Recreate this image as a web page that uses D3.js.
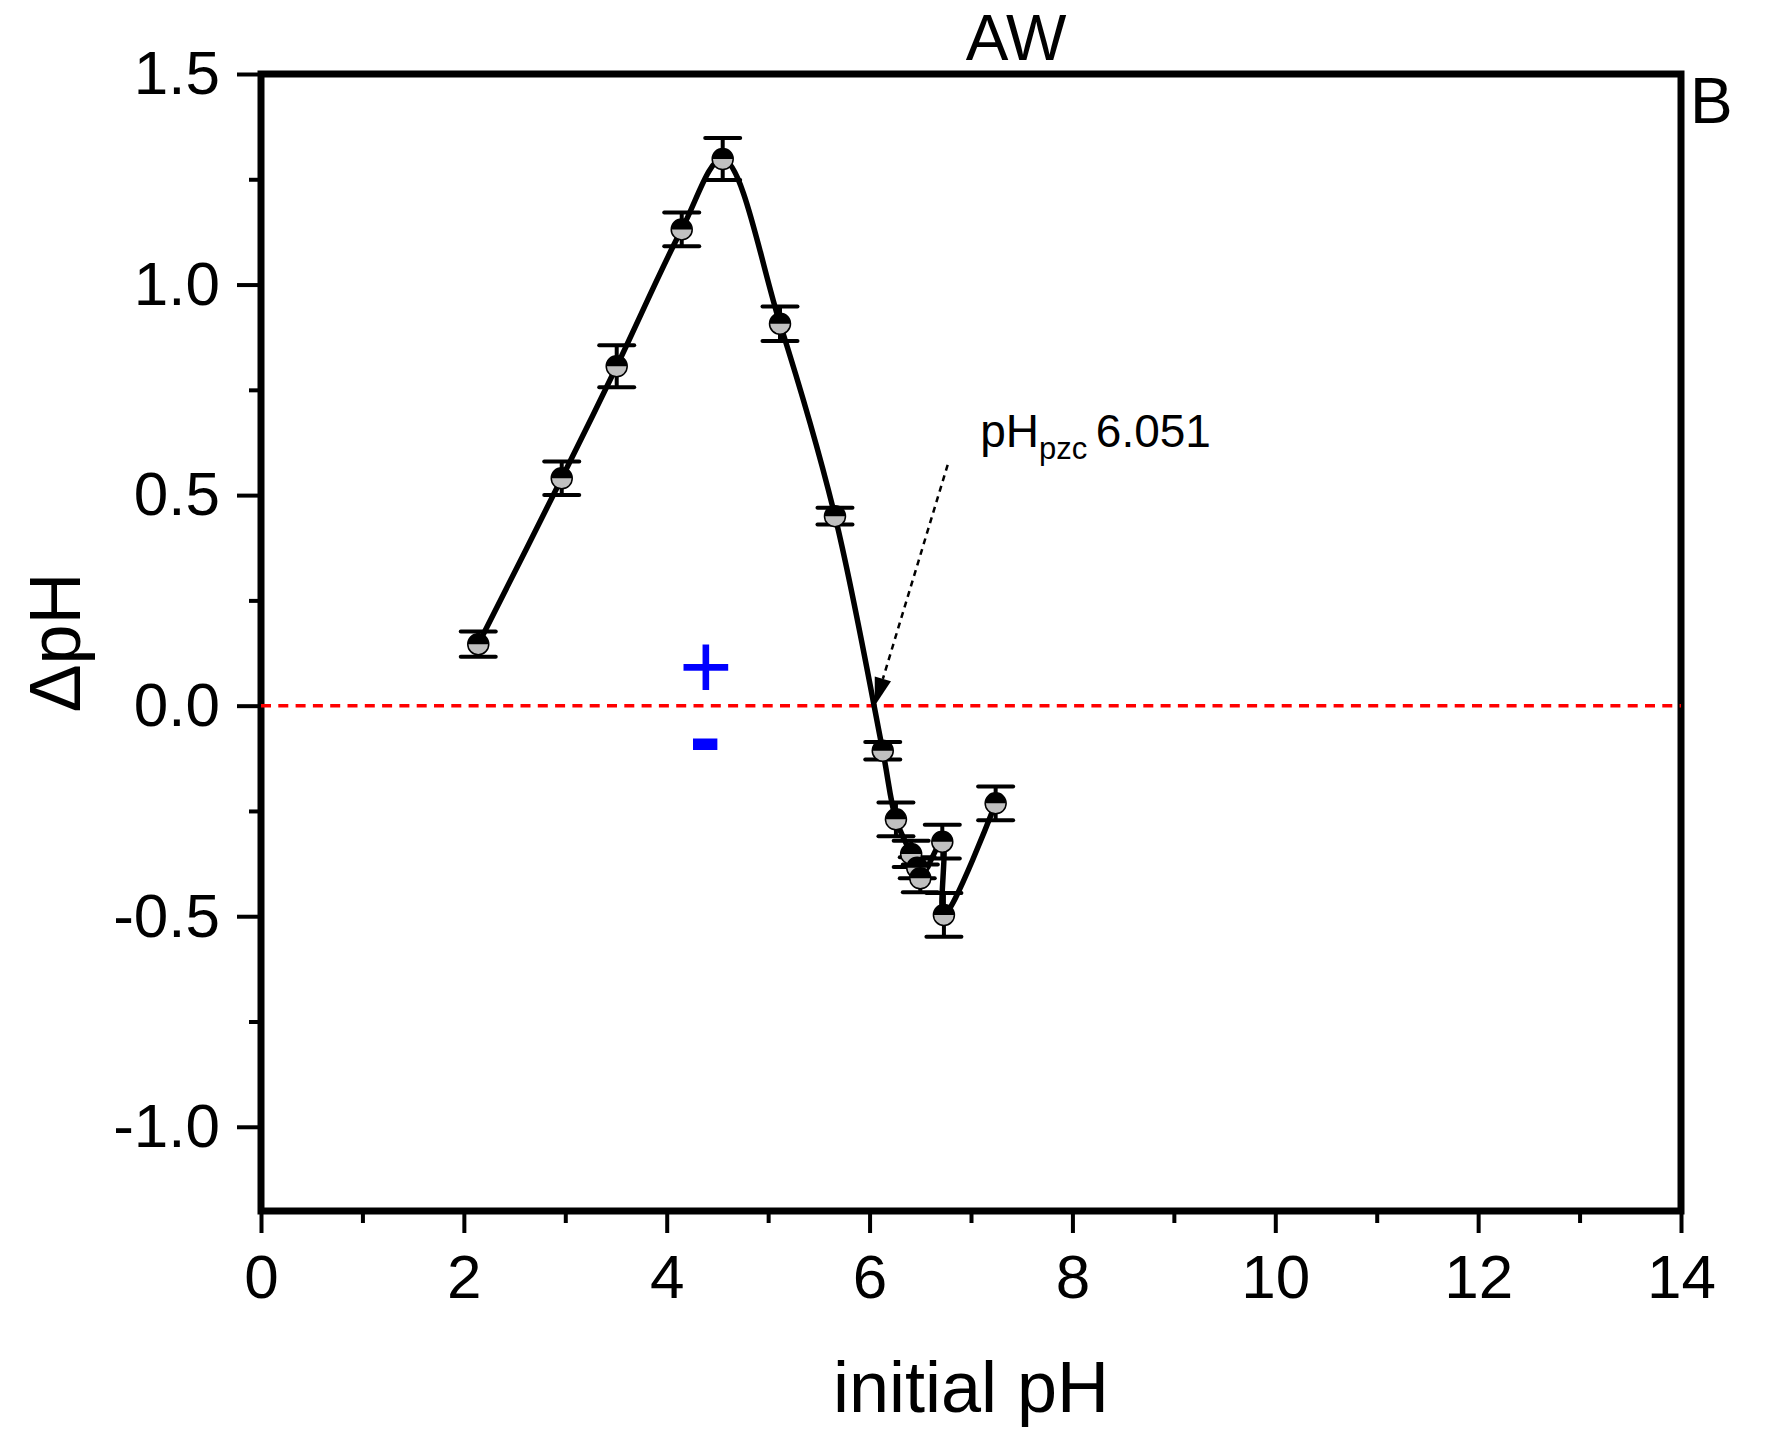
<!DOCTYPE html>
<html>
<head>
<meta charset="utf-8">
<script src="https://cdn.jsdelivr.net/npm/d3@7"></script>
<style>
  body { margin: 0; background: #fff; }
  svg { display: block; font-family: "Liberation Sans", Arial, sans-serif; }
</style>
</head>
<body>
<div id="chart"></div>
<script>
// initial pH vs delta pH (AW sample)
const phInitial = [2.142, 2.965, 3.507, 4.148, 4.552, 5.117, 5.659, 6.13, 6.26, 6.41, 6.47, 6.50, 6.717, 6.733, 7.243];
const deltaPH = [0.146, 0.540, 0.806, 1.131, 1.298, 0.907, 0.450, -0.107, -0.270, -0.352, -0.385, -0.410, -0.323, -0.497, -0.232];
const deltaErr = [0.03, 0.04, 0.05, 0.04, 0.05, 0.041, 0.02, 0.021, 0.04, 0.031, 0.025, 0.033, 0.04, 0.052, 0.04];

const xMajor = [0, 2, 4, 6, 8, 10, 12, 14];
const xMinor = [1, 3, 5, 7, 9, 11, 13];
const yMajor = [-1.0, -0.5, 0.0, 0.5, 1.0, 1.5];
const yMinor = [-0.75, -0.25, 0.25, 0.75, 1.25];

const pzc = 6.051;

const width = 1769, height = 1429;
const svg = d3.select('#chart').append('svg')
    .attr('width', width)
    .attr('height', height);

const x = d3.scaleLinear().domain([0, 14]).range([261, 1681]);
const y = d3.scaleLinear().domain([-1.2, 1.5]).range([1211, 74]);

// axes
svg.append('g')
    .attr('transform', `translate(0,${y(-1.2)})`)
    .call(d3.axisBottom(x).tickValues(xMajor).tickSize(22).tickSizeOuter(0).tickPadding(21).tickFormat(d3.format('d')));
svg.append('g')
    .attr('transform', `translate(0,${y(-1.2)})`)
    .call(d3.axisBottom(x).tickValues(xMinor).tickSize(12).tickSizeOuter(0).tickFormat(''));

const yAxis = svg.append('g')
    .attr('transform', `translate(${x(0)},0)`)
    .call(d3.axisLeft(y).tickValues(yMajor).tickSize(24).tickSizeOuter(0).tickPadding(17).tickFormat(d3.format('.1f')));
svg.append('g')
    .attr('transform', `translate(${x(0)},0)`)
    .call(d3.axisLeft(y).tickValues(yMinor).tickSize(12).tickSizeOuter(0).tickFormat(''));

svg.selectAll('.domain').remove();
svg.selectAll('.tick line').attr('stroke', '#000').attr('stroke-width', 4);
svg.selectAll('.tick text')
    .attr('fill', '#000')
    .style('font-size', '62px')
    .style('font-family', '"Liberation Sans", Arial, sans-serif');
yAxis.selectAll('.tick text').text(d => d3.format('.1f')(d).replace('−', '-'));

// frame
svg.append('rect')
    .attr('x', x(0))
    .attr('y', y(1.5))
    .attr('width', x(14) - x(0))
    .attr('height', y(-1.2) - y(1.5))
    .attr('fill', 'none')
    .attr('stroke', '#000')
    .attr('stroke-width', 7);

// zero line
svg.append('line')
    .attr('x1', x(0)).attr('x2', x(14))
    .attr('y1', y(0)).attr('y2', y(0))
    .attr('stroke', '#ff0000')
    .attr('stroke-width', 3.5)
    .attr('stroke-dasharray', '10,7.3');

const points = phInitial.map((v, i) => ({ x: v, y: deltaPH[i], e: deltaErr[i] }));

// connecting spline
svg.append('path')
    .datum(points)
    .attr('fill', 'none')
    .attr('stroke', '#000')
    .attr('stroke-width', 5.5)
    .attr('stroke-linejoin', 'round')
    .attr('d', d3.line()
        .x(d => x(d.x))
        .y(d => y(d.y))
        .curve(d3.curveCatmullRom.alpha(0.5)));

// error bars
const capW = 17.5;
const err = svg.append('g').attr('stroke', '#000').attr('stroke-width', 4);
points.forEach(d => {
    err.append('line')
        .attr('x1', x(d.x)).attr('x2', x(d.x))
        .attr('y1', y(d.y + d.e)).attr('y2', y(d.y - d.e));
    err.append('line')
        .attr('x1', x(d.x) - capW).attr('x2', x(d.x) + capW)
        .attr('y1', y(d.y + d.e)).attr('y2', y(d.y + d.e))
        .attr('stroke-linecap', 'round');
    err.append('line')
        .attr('x1', x(d.x) - capW).attr('x2', x(d.x) + capW)
        .attr('y1', y(d.y - d.e)).attr('y2', y(d.y - d.e))
        .attr('stroke-linecap', 'round');
});

// half-filled markers
const r = 10.5;
const markers = svg.append('g');
points.forEach(d => {
    const cx = x(d.x), cy = y(d.y);
    const g = markers.append('g').attr('transform', `translate(${cx},${cy})`);
    g.append('circle').attr('r', r).attr('fill', '#c0c0c0');
    g.append('path')
        .attr('d', `M${-r},0 A${r},${r} 0 0 1 ${r},0 Z`)
        .attr('fill', '#000');
    g.append('circle').attr('r', r).attr('fill', 'none').attr('stroke', '#000').attr('stroke-width', 1.5);
});

// pH pzc annotation
const arrowFrom = { x: 6.77, y: 0.572 };
const x1 = x(arrowFrom.x), y1 = y(arrowFrom.y);
const x2 = x(pzc), y2 = y(0);
const ang = Math.atan2(y2 - y1, x2 - x1);
const headLen = 28, headW = 8.5;
const bx = x2 - headLen * Math.cos(ang), by = y2 - headLen * Math.sin(ang);
svg.append('line')
    .attr('x1', x1).attr('y1', y1)
    .attr('x2', bx).attr('y2', by)
    .attr('stroke', '#000')
    .attr('stroke-width', 2.5)
    .attr('stroke-dasharray', '6,5');
svg.append('path')
    .attr('d', `M${x2},${y2} L${bx + headW * Math.sin(ang)},${by - headW * Math.cos(ang)} L${bx - headW * Math.sin(ang)},${by + headW * Math.cos(ang)} Z`)
    .attr('fill', '#000');

const label = svg.append('text')
    .attr('x', x(7.09))
    .attr('y', y(0.615))
    .style('font-size', '46px')
    .attr('fill', '#000');
label.append('tspan').text('pH');
label.append('tspan').attr('dy', 12).style('font-size', '31px').text('pzc ');
label.append('tspan').attr('dy', -12).text('6.051');

// sign markers
svg.append('text')
    .attr('x', x(4.387)).attr('y', y(0.0895))
    .attr('text-anchor', 'middle')
    .attr('dy', '0.33em')
    .attr('fill', '#0000ff')
    .style('font-size', '92px')
    .text('+');
svg.append('text')
    .attr('x', x(4.38)).attr('y', y(-0.076))
    .attr('text-anchor', 'middle')
    .attr('dy', '0.33em')
    .attr('fill', '#0000ff')
    .style('font-size', '96px')
    .style('font-weight', 'bold')
    .text('-');

// titles
svg.append('text')
    .attr('x', 1016).attr('y', 60)
    .attr('text-anchor', 'middle')
    .style('font-size', '64px')
    .text('AW');
svg.append('text')
    .attr('x', 1690).attr('y', 123)
    .style('font-size', '64px')
    .text('B');

svg.append('text')
    .attr('x', (x(0) + x(14)) / 2).attr('y', 1412)
    .attr('text-anchor', 'middle')
    .style('font-size', '72px')
    .text('initial pH');
svg.append('text')
    .attr('transform', `translate(80,${(y(-1.2) + y(1.5)) / 2}) rotate(-90)`)
    .attr('text-anchor', 'middle')
    .style('font-size', '72px')
    .text('ΔpH');
</script>
</body>
</html>
